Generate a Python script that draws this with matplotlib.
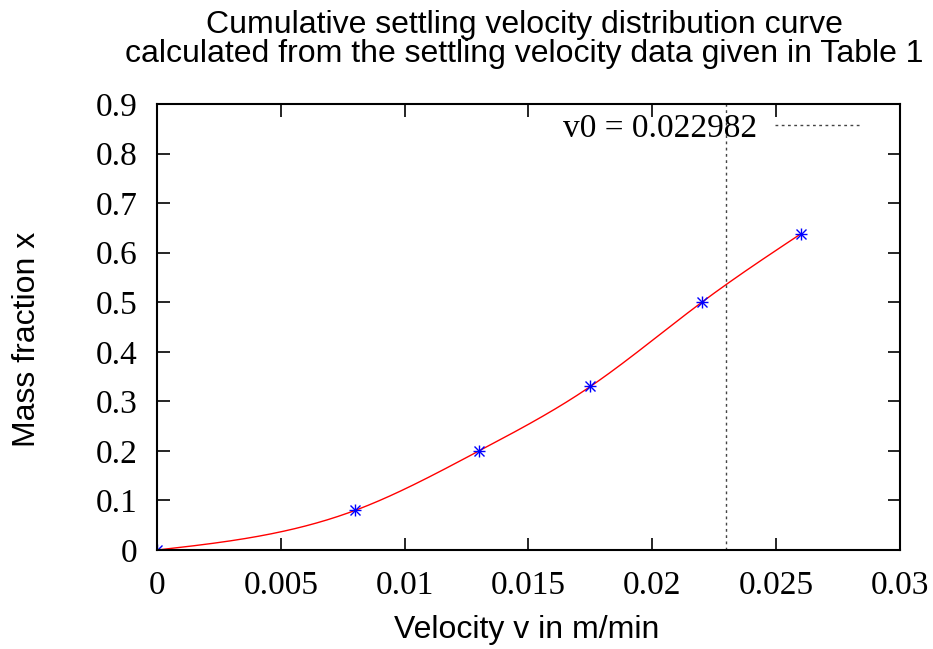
import numpy as np
import matplotlib
matplotlib.use('Agg')
import matplotlib.pyplot as plt

# data
velocity = [0.0, 0.008, 0.013, 0.0175, 0.022, 0.026]
mass_fraction = [0.0, 0.08, 0.2, 0.33, 0.5, 0.638]
v0 = 0.022982
xticks = [0, 0.005, 0.01, 0.015, 0.02, 0.025, 0.03]
yticks = [0, 0.1, 0.2, 0.3, 0.4, 0.5, 0.6, 0.7, 0.8, 0.9]


def natural_spline(x, y, xs):
    # natural cubic spline, like gnuplot's "smooth csplines"
    x = np.asarray(x, float)
    y = np.asarray(y, float)
    n = len(x)
    h = np.diff(x)
    A = np.zeros((n, n))
    r = np.zeros(n)
    A[0, 0] = A[-1, -1] = 1
    for i in range(1, n - 1):
        A[i, i - 1] = h[i - 1]
        A[i, i] = 2 * (h[i - 1] + h[i])
        A[i, i + 1] = h[i]
        r[i] = 3 * ((y[i + 1] - y[i]) / h[i] - (y[i] - y[i - 1]) / h[i - 1])
    c = np.linalg.solve(A, r)
    b = (np.diff(y) / h) - h * (2 * c[:-1] + c[1:]) / 3
    d = np.diff(c) / (3 * h)
    idx = np.clip(np.searchsorted(x, xs) - 1, 0, n - 2)
    dx = xs - x[idx]
    return y[idx] + b[idx] * dx + c[idx] * dx ** 2 + d[idx] * dx ** 3


serif = ['Liberation Serif', 'DejaVu Serif']
sans = ['Liberation Sans', 'DejaVu Sans']

fig = plt.figure(figsize=(9.33, 6.49), dpi=100)
ax = fig.add_axes([0.1683, 0.1525, 0.7963, 0.6873])

xs = np.linspace(velocity[0], velocity[-1], 300)
ax.plot(xs, natural_spline(velocity, mass_fraction, xs), color='red', lw=1.0)
ax.plot(velocity, mass_fraction, ls='none', marker='+', ms=9, mew=1.0, color='blue')
ax.plot(velocity, mass_fraction, ls='none', marker='x', ms=6.5, mew=1.0, color='blue')
ax.plot([v0, v0], [0, 0.9], color='#444444', lw=1.0, ls=(0, (2, 2.5)))

# legend drawn gnuplot-style
ax.text(0.02423, 0.85, 'v0 = %g' % v0, family=serif, fontsize=24,
        ha='right', va='center')
ax.plot([0.02495, 0.02838], [0.8576, 0.8576], color='#444444', lw=1.0,
        ls=(0, (2, 2.5)))

ax.set_xlim(0, 0.03)
ax.set_ylim(0, 0.9)
ax.set_xticks(xticks)
ax.set_yticks(yticks)
ax.set_xticklabels(['%g' % t for t in xticks], family=serif, fontsize=24)
ax.set_yticklabels(['%g' % t for t in yticks], family=serif, fontsize=24)
ax.tick_params(direction='in', length=9, width=1.2, top=True, right=True)
ax.tick_params(axis='x', pad=15)
ax.tick_params(axis='y', pad=14)
for s in ax.spines.values():
    s.set_linewidth(1.5)

fig.text(0.5616, 0.939,
         'Cumulative settling velocity distribution curve\n'
         'calculated from the settling velocity data given in Table 1',
         family=sans, fontsize=23, ha='center', va='center',
         multialignment='center', linespacing=0.95)
fig.text(0.5648, 0.0293, 'Velocity v in m/min', family=sans, fontsize=23,
         ha='center', va='center')
fig.text(0.0290, 0.4777, 'Mass fraction x', family=sans, fontsize=23,
         ha='center', va='center', rotation=90)

fig.savefig('out.png', dpi=100)
